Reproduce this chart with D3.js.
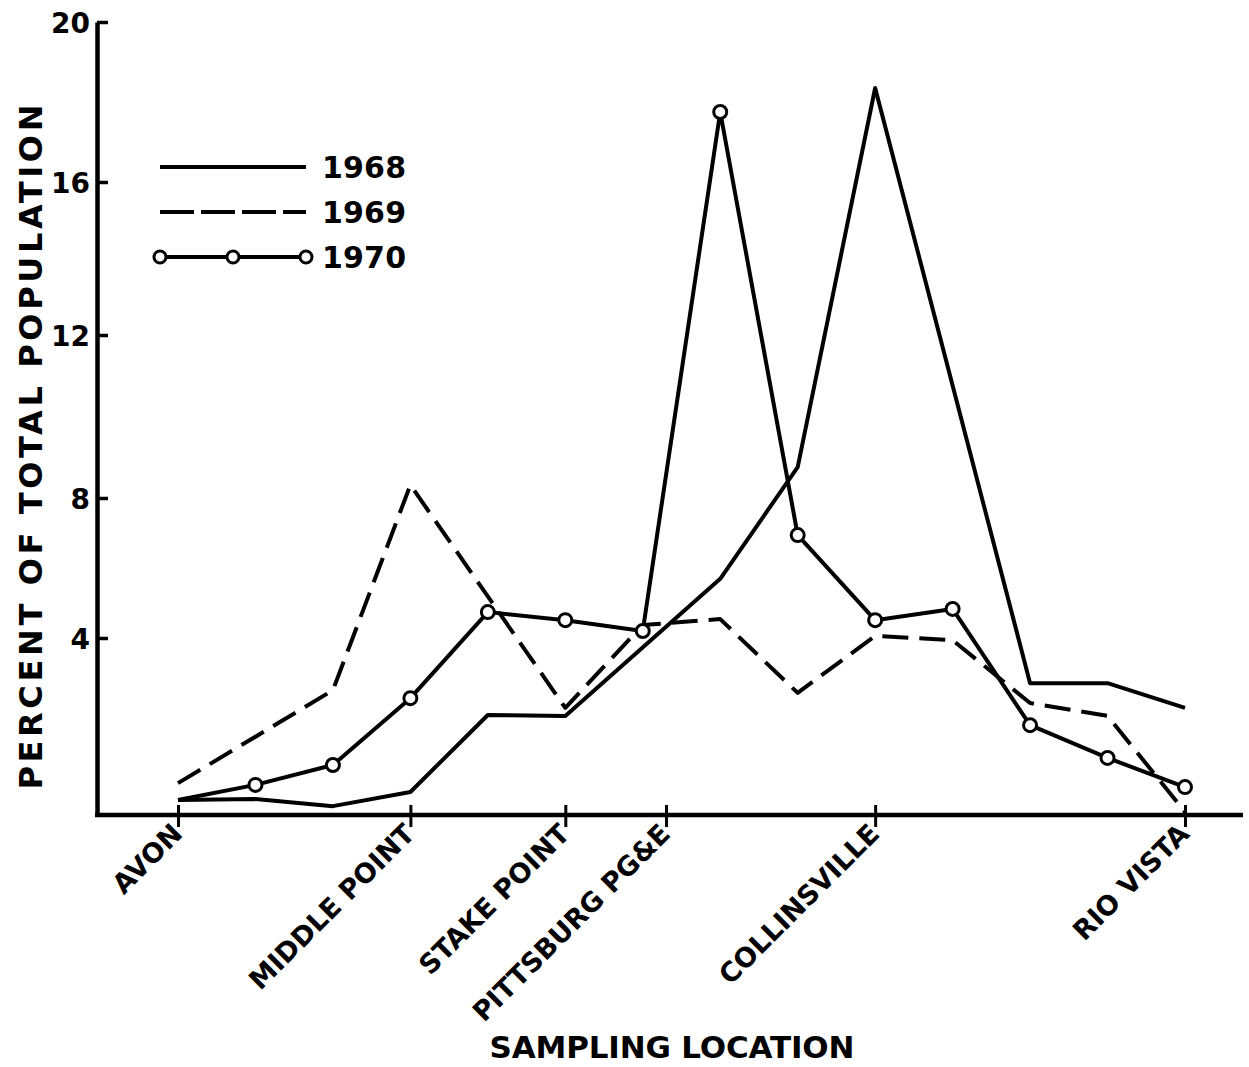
<!DOCTYPE html>
<html>
<head>
<meta charset="utf-8">
<script src="https://cdn.jsdelivr.net/npm/d3@7"></script>
<style>
  body { margin: 0; background: #fff; }
  text { font-family: 'DejaVu Sans', sans-serif; font-weight: bold; fill: #000; }
</style>
</head>
<body>
<div id="chart"></div>
<script>
(function () {

'use strict';

// sampling stations, upstream order (Avon .. Rio Vista)
var stations = [0, 1, 2, 3, 4, 5, 6, 7, 8, 9, 10, 11, 12, 13];

// named places along the axis, in station units
var landmarks = ['AVON', 'MIDDLE POINT', 'STAKE POINT', 'PITTSBURG PG&E', 'COLLINSVILLE', 'RIO VISTA'];
var landmarkStation = [0, 3, 5, 6.3, 9, 13];

var yTicks = [4, 8, 12, 16, 20];

// percent of total population, null = not sampled that year
var pct1968 = [0.34, 0.36, 0.2, 0.52, 2.26, 2.24, null, 5.69, 8.76, 18.35, null, 2.98, 2.98, 2.42];
var pct1969 = [0.72, null, 2.82, 8.32, null, 2.42, 4.37, 4.54, 2.76, 4.06, 3.95, 2.53, 2.24, 0.07];
var pct1970 = [0.34, 0.68, 1.13, 2.64, 4.74, 4.51, 4.2, 17.75, 6.94, 4.51, 4.83, 2.03, 1.29, 0.63];

var years = ['1968', '1969', '1970'];

var width = 1249,
    height = 1067;

var svg = d3.select('#chart').append('svg')
    .attr('width', width)
    .attr('height', height);

var x = d3.scaleLinear()
  .domain([0, 13])
  .range([178, 1185]);

// the hand-ruled axis is not quite even, follow its tick marks
var y = d3.scaleLinear()
  .domain([0, 4, 8, 12, 16, 20])
  .range([815, 638, 498, 335, 182, 22]);

// x axis
svg.append('line')
  .attr('x1', 95).attr('x2', 1243)
  .attr('y1', y(0)).attr('y2', y(0))
  .attr('stroke', '#000')
  .attr('stroke-width', 4.5);

var xAxis = svg.append('g')
  .attr('transform', 'translate(0,' + y(0) + ')')
  .call(d3.axisBottom(x)
    .tickValues(landmarkStation)
    .tickFormat(function (d, i) { return landmarks[i]; })
    .tickSize(12)
    .tickSizeOuter(0));

xAxis.select('.domain').remove();
xAxis.selectAll('.tick line')
  .attr('y1', -10)
  .attr('stroke-width', 3);
xAxis.selectAll('.tick text')
  .attr('font-size', 27)
  .attr('text-anchor', 'end')
  .attr('dy', 0)
  .attr('transform', 'translate(-1,14) rotate(-45)')
  .attr('x', 0)
  .attr('y', 9);

// y axis, ticks point inward
var yAxis = svg.append('g')
  .attr('transform', 'translate(97,0)')
  .call(d3.axisLeft(y)
    .tickValues(yTicks)
    .tickSize(-11)
    .tickSizeOuter(0)
    .tickPadding(7));

yAxis.select('.domain')
  .attr('stroke-width', 4.5);
yAxis.selectAll('.tick line')
  .attr('stroke-width', 3.5);
yAxis.selectAll('.tick text')
  .attr('font-size', 28)
  .attr('dy', '0.36em');

// axis titles
svg.append('text')
  .attr('transform', 'translate(42,447) rotate(-90)')
  .attr('text-anchor', 'middle')
  .attr('font-size', 32)
  .attr('textLength', 685)
  .text('PERCENT OF TOTAL POPULATION');

svg.append('text')
  .attr('x', 672)
  .attr('y', 1058)
  .attr('text-anchor', 'middle')
  .attr('font-size', 31)
  .attr('textLength', 365)
  .text('SAMPLING LOCATION');

// series
var line = d3.line()
  .x(function (d) { return x(d.station); })
  .y(function (d) { return y(d.value); });

function points(values) {
  return stations
    .map(function (s, i) { return { station: s, value: values[i] }; })
    .filter(function (d) { return d.value !== null; });
}

var series = [
  { year: years[0], data: points(pct1968), dash: null, dots: false },
  { year: years[1], data: points(pct1969), dash: '26,11', dots: false },
  { year: years[2], data: points(pct1970), dash: null, dots: true }
];

series.forEach(function (s) {
  svg.append('path')
    .datum(s.data)
    .attr('d', line)
    .attr('fill', 'none')
    .attr('stroke', '#000')
    .attr('stroke-width', 4)
    .attr('stroke-linejoin', 'round')
    .attr('stroke-dasharray', s.dash);

  if (s.dots) {
    // first station shares the 1968 point, no ring drawn there
    svg.selectAll('circle.y' + s.year)
      .data(s.data.slice(1))
      .enter()
      .append('circle')
      .attr('class', 'y' + s.year)
      .attr('cx', function (d) { return x(d.station); })
      .attr('cy', function (d) { return y(d.value); })
      .attr('r', 6.5)
      .attr('fill', '#fff')
      .attr('stroke', '#000')
      .attr('stroke-width', 3);
  }
});

// legend
var legend = svg.append('g')
  .attr('transform', 'translate(160,167)');

var legendItems = legend.selectAll('g')
  .data(series)
  .enter()
  .append('g')
  .attr('transform', function (d, i) { return 'translate(0,' + i * 45 + ')'; });

legendItems.append('line')
  .attr('x1', 0).attr('x2', 146)
  .attr('stroke', '#000')
  .attr('stroke-width', 4)
  .attr('stroke-dasharray', function (d) { return d.dash ? '34,7' : null; });

legendItems.filter(function (d) { return d.dots; })
  .selectAll('circle')
  .data([0, 0.5, 1])
  .enter()
  .append('circle')
  .attr('cx', function (d) { return d * 146; })
  .attr('r', 6)
  .attr('fill', '#fff')
  .attr('stroke', '#000')
  .attr('stroke-width', 3);

legendItems.append('text')
  .attr('x', 162)
  .attr('dy', '0.36em')
  .attr('font-size', 30)
  .attr('textLength', 84)
  .text(function (d) { return d.year; });

})();
</script>
</body>
</html>
